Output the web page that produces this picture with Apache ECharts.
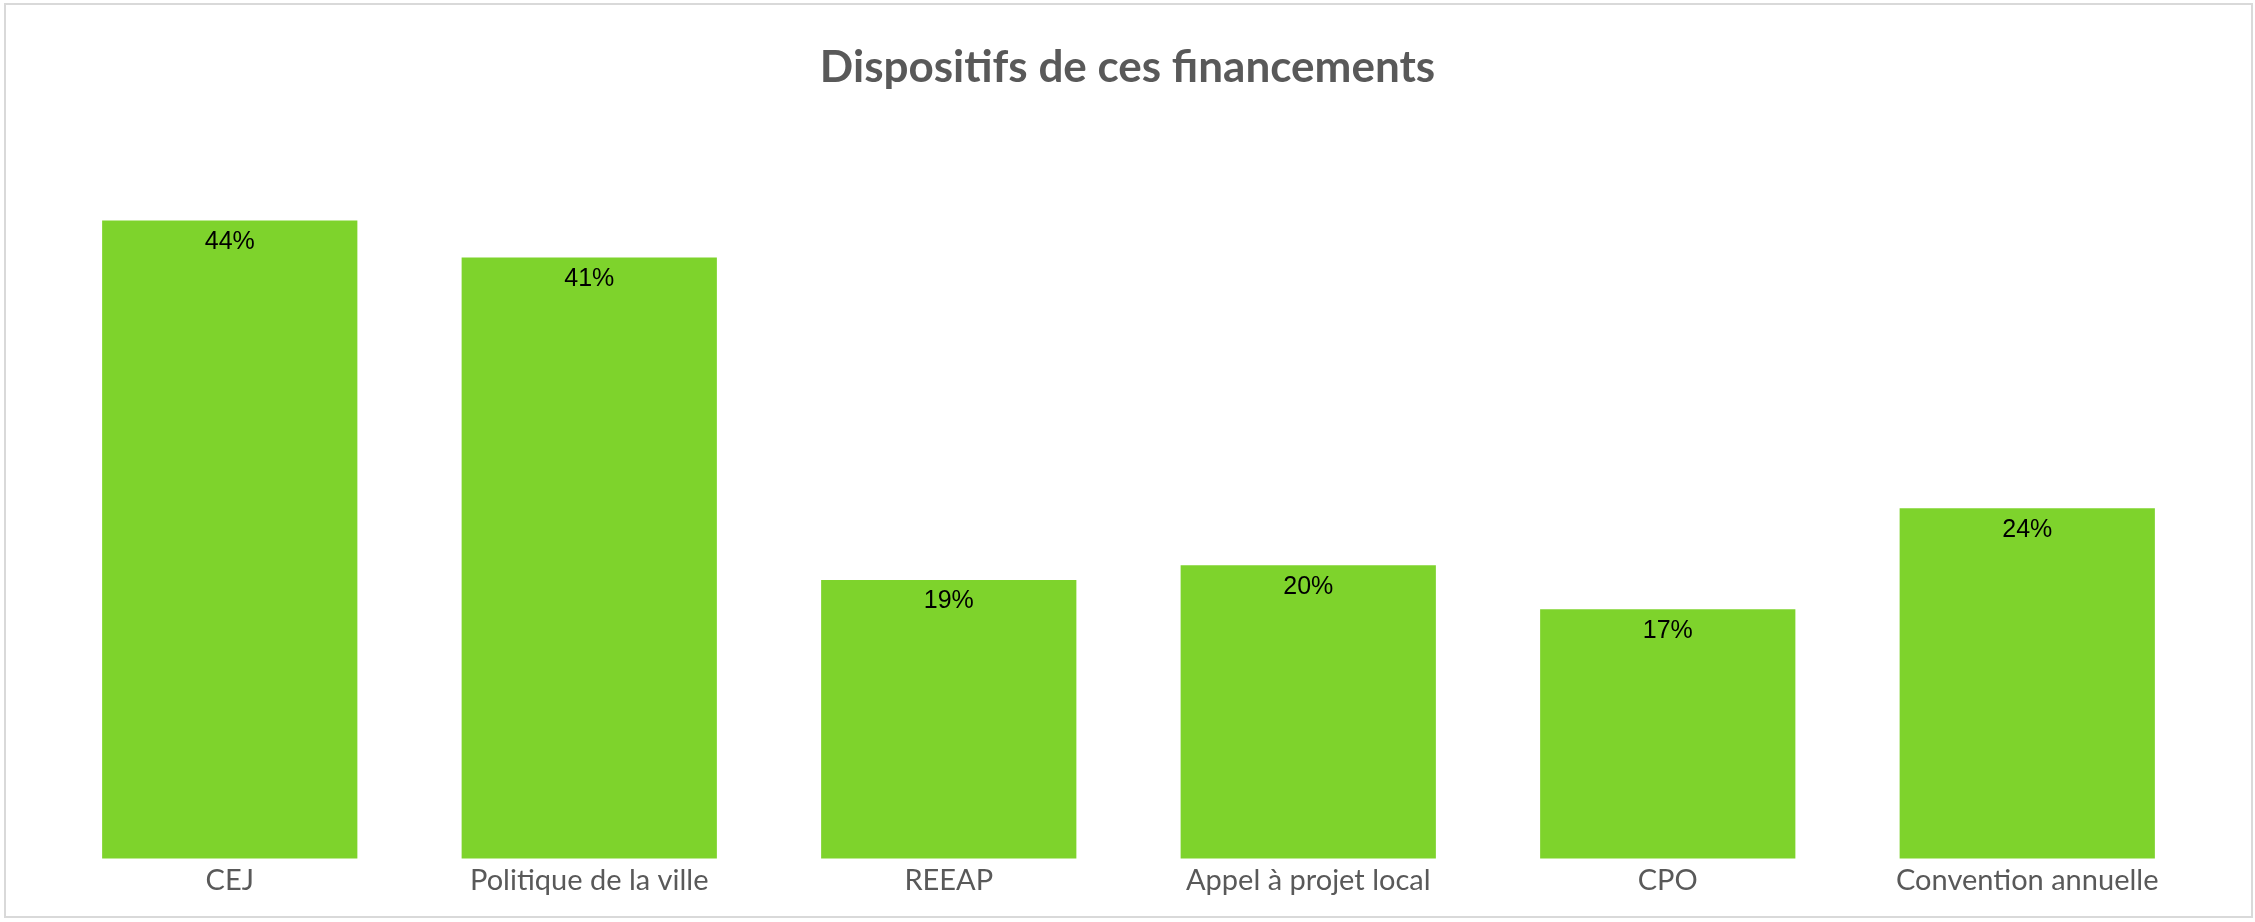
<!DOCTYPE html>
<html>
<head>
<meta charset="utf-8">
<script src="https://cdn.jsdelivr.net/npm/echarts@6/dist/echarts.min.js"></script>
<style>
  html, body { margin: 0; padding: 0; background: #ffffff; }
  #main { width: 2255px; height: 922px; }
</style>
</head>
<body>
<div id="main"></div>
<script>
// données
var categories = ["CEJ", "Politique de la ville", "REEAP", "Appel à projet local", "CPO", "Convention annuelle"];
var values = [0.4352, 0.41, 0.19, 0.20, 0.17, 0.239];

var chart = echarts.init(document.getElementById("main"));
chart.setOption({
  backgroundColor: "#ffffff",
  animation: false,
  title: {
    text: "Dispositifs de ces financements",
    left: "center",
    top: 41,
    textStyle: {
      fontFamily: "Lato",
      fontWeight: "bold",
      fontSize: 44,
      color: "#595959"
    }
  },
  graphic: [
    {
      type: "rect",
      shape: { x: 5, y: 4, width: 2247, height: 913 },
      style: { fill: "none", stroke: "#d9d9d9", lineWidth: 2 },
      silent: true
    }
  ],
  grid: {
    left: 50,
    right: 48,
    top: 125.5,
    bottom: 63.5,
    containLabel: false
  },
  xAxis: {
    type: "category",
    data: categories,
    axisTick: { show: false },
    axisLine: { show: false },
    axisLabel: {
      margin: 8,
      fontFamily: "Lato",
      fontSize: 29,
      color: "#595959"
    }
  },
  yAxis: {
    type: "value",
    min: 0,
    max: 0.5,
    show: false,
    splitLine: { show: false }
  },
  series: [
    {
      type: "bar",
      data: values,
      barCategoryGap: "29%",
      itemStyle: { color: "#7ED32C" },
      label: {
        show: true,
        position: "insideTop",
        distance: 9,
        fontFamily: "Liberation Sans",
        fontSize: 25,
        color: "#000000",
        formatter: function (p) {
          return Math.round(p.value * 100) + "%";
        }
      }
    }
  ]
});
</script>
</body>
</html>
